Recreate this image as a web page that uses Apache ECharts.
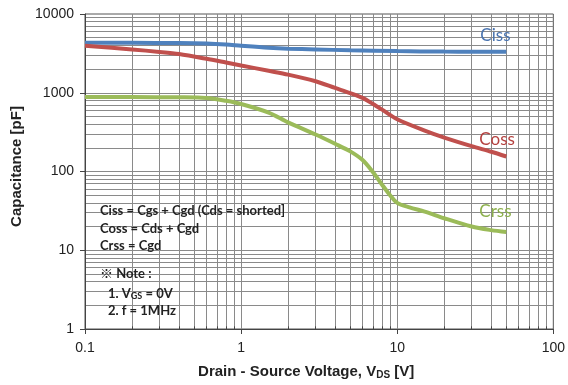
<!DOCTYPE html>
<html><head><meta charset="utf-8">
<script src="https://cdn.jsdelivr.net/npm/echarts@6/dist/echarts.min.js"></script>
<style>html,body{margin:0;padding:0;background:#fff;}#c{width:568px;height:385px;}</style>
</head><body><div id="c"></div>
<script>
// ---- data ----
const xTickLabels = ['0.1', '1', '10', '100'];
const yTickLabels = ['1', '10', '100', '1000', '10000'];

const cissV = [0.1, 0.2, 0.4, 0.6, 0.8, 1, 1.5, 2, 3, 5, 10, 20, 30, 50];
const cissC = [4300, 4300, 4280, 4220, 4100, 3950, 3720, 3620, 3550, 3460, 3380, 3330, 3320, 3320];

const cossV = [0.1, 0.2, 0.3, 0.4, 0.6, 0.8, 1, 1.5, 2, 3, 4, 5, 6, 7, 8, 10, 15, 20, 30, 40, 50];
const cossC = [3950, 3550, 3300, 3100, 2700, 2420, 2220, 1900, 1700, 1400, 1150, 990, 860, 720, 610, 460, 330, 270, 210, 178, 155];

const crssV = [0.1, 0.2, 0.4, 0.6, 0.8, 1, 1.5, 2, 3, 4, 5, 6, 7, 8, 9, 10, 12, 15, 20, 30, 40, 50];
const crssC = [880, 880, 875, 860, 790, 720, 560, 420, 295, 225, 180, 140, 98, 68, 50, 40, 35, 31, 25.5, 20, 18, 17];

const seriesNames = ['Ciss', 'Coss', 'Crss'];
const seriesColors = ['#4f81bd', '#c0504d', '#9bbb59'];
const labelColors = ['#4a74b0', '#b4413f', '#8db04d'];

const boxLines = [
  'Ciss = Cgs + Cgd (Cds = shorted]',
  'Coss = Cds + Cgd',
  'Crss = Cgd',
  '\u203B Note :',
  '1. V{s|GS} = 0V',
  '2. f = 1MHz'
];

// ---- build ----
const pairs = (xs, ys) => xs.map((x, i) => [x, ys[i]]);
const xMin = +xTickLabels[0], xMax = +xTickLabels[xTickLabels.length - 1];
const yMin = +yTickLabels[0], yMax = +yTickLabels[yTickLabels.length - 1];

const xGrid = [], yGrid = [];
for (let d = xMin; d < xMax - 1e-9; d *= 10) for (let k = 1; k <= 9; k++) { const v = +(k * d).toPrecision(3); if (v > xMin) xGrid.push(v); }
for (let d = yMin; d < yMax - 1e-9; d *= 10) for (let k = 1; k <= 9; k++) { const v = Math.round(k * d); if (v > yMin) yGrid.push(v); }

const chart = echarts.init(document.getElementById('c'), null, { renderer: 'canvas' });
const gridColor = '#8a8a8a';
const fam = '"Liberation Sans", Arial, sans-serif';
const axisFont = { fontFamily: fam, fontSize: 14, color: '#222' };
const nameFont = { fontFamily: fam, fontSize: 15, fontWeight: 'bold', color: '#222' };

const dataSeries = [[cissV, cissC], [cossV, cossC], [crssV, crssC]].map((p, i) => ({
  name: seriesNames[i], type: 'line', data: pairs(p[0], p[1]), smooth: 0.3, symbol: 'none', z: 6,
  lineStyle: { color: seriesColors[i], width: 4 }, itemStyle: { color: seriesColors[i] },
  endLabel: { show: true, formatter: '{a}', color: labelColors[i], fontFamily: 'Lato, "Open Sans", sans-serif', fontSize: 17,
    offset: [[-34, -16], [-35, -17], [-35, -21]][i] },
  animation: false
}));

const minorTickSeg = xGrid.filter(v => ![1, 10].includes(v)).map(v => [{ coord: [v, yMin] }, { coord: [v, 1.08] }]);

chart.setOption({
  animation: false,
  grid: { left: 85, right: 13, top: 14, bottom: 56, show: true, borderColor: '#555', borderWidth: 1 },
  xAxis: {
    type: 'log', logBase: 10, min: xMin, max: xMax, splitNumber: 3, z: 5,
    axisLine: { show: true, lineStyle: { color: '#444', width: 1 } },
    axisTick: { show: true, length: 5, lineStyle: { color: '#444' } },
    splitLine: { show: false },
    axisLabel: Object.assign({ margin: 12, formatter: v => xTickLabels.find(t => Math.abs(+t - v) < 1e-6 * v) || '' }, axisFont),
    name: 'Drain - Source Voltage, V{s|DS} [V]', nameLocation: 'middle', nameGap: 35,
    nameTextStyle: Object.assign({ padding: [0, 26, 0, 0], rich: { s: { fontFamily: fam, fontSize: 10, fontWeight: 'bold', color: '#222', padding: [6, 0, 0, 0] } } }, nameFont)
  },
  yAxis: {
    type: 'log', logBase: 10, min: yMin, max: yMax, splitNumber: 4, z: 5,
    axisLine: { show: true, lineStyle: { color: '#444', width: 1 } },
    axisTick: { show: true, length: 5, lineStyle: { color: '#444' } },
    splitLine: { show: false },
    axisLabel: Object.assign({ margin: 11, formatter: v => yTickLabels.find(t => Math.abs(+t - v) < 1e-6 * v) || '' }, axisFont),
    name: 'Capacitance [pF]', nameLocation: 'middle', nameGap: 60,
    nameTextStyle: Object.assign({ padding: [0, 0, 0, 10] }, nameFont)
  },
  graphic: [
    { type: 'rect', z: 3, shape: { x: 86, y: 191, width: 214, height: 137 }, style: { fill: '#fff' } }
  ].concat(boxLines.map((t, i) => ({
    type: 'text', z: 7, x: i >= 4 ? 108 : 100, y: [211, 228.5, 246, 273.5, 294, 311][i],
    style: { text: t, fill: '#222', font: 'bold 13px Lato, "Noto Sans CJK JP", sans-serif', verticalAlign: 'middle',
      rich: { s: { font: 'bold 9px Lato, sans-serif', fill: '#222', padding: [5, 0, 0, 0] } } }
  }))),
  series: [
    {
      name: 'grid', type: 'line', data: [], z: 1, silent: true,
      markLine: {
        silent: true, symbol: ['none', 'none'], label: { show: false }, animation: false,
        lineStyle: { color: gridColor, width: 1, type: 'solid' },
        data: xGrid.map(v => ({ xAxis: v })).concat(yGrid.map(v => ({ yAxis: v })))
      }
    },
    {
      name: 'ticks', type: 'line', data: [], z: 5, silent: true,
      markLine: {
        silent: true, symbol: ['none', 'none'], label: { show: false }, animation: false,
        lineStyle: { color: '#444', width: 1, type: 'solid' },
        data: minorTickSeg
      }
    }
  ].concat(dataSeries)
});
</script></body></html>
